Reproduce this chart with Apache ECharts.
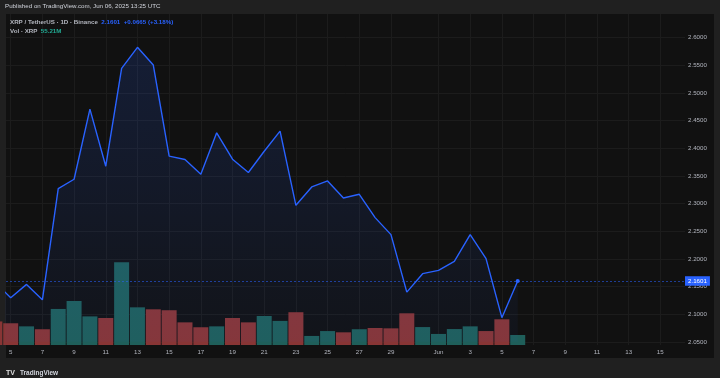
<!DOCTYPE html>
<html>
<head>
<meta charset="utf-8">
<script src="https://cdn.jsdelivr.net/npm/echarts@6/dist/echarts.min.js"></script>
<style>
html, body { margin: 0; padding: 0; background: #202020; }
#chart { width: 720px; height: 378px; }
</style>
</head>
<body>
<div id="chart"></div>
<script>
// daily XRP/USDT closes and volume (millions)
const dates = [
	'2025-05-04', '2025-05-05', '2025-05-06', '2025-05-07', '2025-05-08', '2025-05-09',
	'2025-05-10', '2025-05-11', '2025-05-12', '2025-05-13', '2025-05-14', '2025-05-15',
	'2025-05-16', '2025-05-17', '2025-05-18', '2025-05-19', '2025-05-20', '2025-05-21',
	'2025-05-22', '2025-05-23', '2025-05-24', '2025-05-25', '2025-05-26', '2025-05-27',
	'2025-05-28', '2025-05-29', '2025-05-30', '2025-05-31', '2025-06-01', '2025-06-02',
	'2025-06-03', '2025-06-04', '2025-06-05', '2025-06-06'
]
const closes = [
	2.1578, 2.1297, 2.1538, 2.1260, 2.3272, 2.3440,
	2.4708, 2.3676, 2.5446, 2.5826, 2.5505, 2.3857,
	2.3797, 2.3531, 2.4279, 2.3803, 2.3562, 2.3947,
	2.4310, 2.2969, 2.3301, 2.3409, 2.3101, 2.3168,
	2.2746, 2.2438, 2.1399, 2.1732, 2.1792, 2.1955,
	2.2438, 2.2004, 2.0936, 2.1601
]
const volumes = [
	130, 120, 103, 87, 199, 243,
	158, 149, 457, 208, 197, 192,
	125, 98, 103, 149, 125, 160,
	133, 181, 50, 77, 70, 87,
	94, 92, 175, 99, 61, 88,
	103, 77, 142, 55.21
]
const tickDates = [
	'2025-05-05', '2025-05-07', '2025-05-09', '2025-05-11', '2025-05-13', '2025-05-15',
	'2025-05-17', '2025-05-19', '2025-05-21', '2025-05-23', '2025-05-25', '2025-05-27',
	'2025-05-29', '2025-06-01', '2025-06-03', '2025-06-05', '2025-06-07', '2025-06-09',
	'2025-06-11', '2025-06-13', '2025-06-15'
]
const tickLabels = [
	'5', '7', '9', '11', '13', '15', '17', '19', '21', '23', '25', '27',
	'29', 'Jun', '3', '5', '7', '9', '11', '13', '15'
]

const FONT = 'Liberation Sans, Arial, sans-serif'
const UP = '#1f5f5a'
const DOWN = '#883535'

const dayIndex = d => Math.round((Date.parse(d) - Date.parse(dates[0])) / 864e5)
const tickIdx = tickDates.map(dayIndex)

const last = closes[closes.length - 1]
const prev = closes[closes.length - 2]
const chg = last - prev
const pct = chg / prev * 100
const lastVol = volumes[volumes.length - 1]

const priceData = dates.map((d, i) => {
	const item = { value: [dayIndex(d), closes[i]] }
	if (i === dates.length - 1) {
		item.symbol = 'circle'
		item.symbolSize = 4
	}
	return item
})
const volData = dates.map((d, i) => ({
	value: [dayIndex(d), volumes[i]],
	itemStyle: { color: i > 0 && closes[i] >= closes[i - 1] ? UP : DOWN }
}))

// visible window in day units
const xMin = 0.7034
const xMax = 43.558

const myChart = echarts.init(document.getElementById('chart'))

const option = {
	backgroundColor: '#202020',
	animation: false,
	textStyle: { fontFamily: FONT },
	graphic: [
		{
			type: 'rect', z: -10, silent: true,
			shape: { x: 6, y: 14, width: 708, height: 344 },
			style: { fill: '#111111' }
		}
	],
	title: [
		{
			text: 'Published on TradingView.com, Jun 06, 2025 13:25 UTC',
			left: 5, top: 3.5, padding: 0,
			textStyle: { color: '#d1d4dc', fontSize: 6.2, fontWeight: 'normal', fontFamily: FONT }
		},
		{
			text: '{a|XRP / TetherUS · 1D · Binance}  {b|' + last.toFixed(4) + '  +' + chg.toFixed(4) +
				' (+' + pct.toFixed(2) + '%)}',
			left: 10, top: 19.5, padding: 0,
			textStyle: {
				fontFamily: FONT, fontSize: 6.2,
				rich: {
					a: { color: '#b2b5be', fontSize: 6.2, fontFamily: FONT },
					b: { color: '#2962ff', fontSize: 6.2, fontFamily: FONT }
				}
			}
		},
		{
			text: '{a|Vol · XRP}  {b|' + lastVol.toFixed(2) + 'M}',
			left: 10, top: 28.5, padding: 0,
			textStyle: {
				fontFamily: FONT, fontSize: 6.2,
				rich: {
					a: { color: '#b2b5be', fontSize: 6.2, fontFamily: FONT },
					b: { color: '#22ab94', fontSize: 6.2, fontFamily: FONT }
				}
			}
		},
		{
			text: '{l|TV} {t|TradingView}',
			left: 6, top: 364, padding: 0,
			textStyle: {
				fontFamily: FONT,
				rich: {
					l: { color: '#e0e0e0', fontSize: 7, fontWeight: 900, fontFamily: FONT },
					t: { color: '#d1d4dc', fontSize: 6.5, fontFamily: FONT }
				}
			}
		}
	],
	grid: [
		{ left: 6, right: 35, top: 37.7, bottom: 36.2 },
		{ left: 6, right: 35, top: 14, bottom: 33 }
	],
	xAxis: [
		{
			type: 'value', gridIndex: 0, min: xMin, max: xMax, show: false,
			splitLine: { show: false }
		},
		{
			type: 'value', gridIndex: 1, min: xMin, max: xMax,
			axisLine: { show: false },
			axisTick: { show: false, customValues: tickIdx },
			axisLabel: {
				customValues: tickIdx,
				margin: 4,
				color: '#b2b5be',
				fontSize: 6.2,
				fontFamily: FONT,
				formatter: v => tickLabels[tickIdx.indexOf(v)]
			},
			splitLine: { show: true, lineStyle: { color: '#1c1c1c', width: 1 } }
		}
	],
	yAxis: [
		{
			type: 'value', gridIndex: 0, position: 'right',
			min: 2.05, max: 2.6, interval: 0.05,
			axisLine: { show: false },
			axisTick: { show: false },
			axisLabel: {
				margin: 3, color: '#b2b5be', fontSize: 6.2, fontFamily: FONT,
				formatter: v => v.toFixed(4)
			},
			splitLine: { show: true, lineStyle: { color: '#1c1c1c', width: 1 } }
		},
		{
			type: 'value', gridIndex: 1, min: 0, max: 1827, show: false,
			splitLine: { show: false }
		}
	],
	series: [
		{
			type: 'bar',
			xAxisIndex: 1, yAxisIndex: 1,
			barWidth: 15,
			data: volData,
			z: 1,
			markLine: {
				silent: true, symbol: 'none',
				lineStyle: { opacity: 0 },
				label: {
					position: 'end', distance: 0,
					formatter: lastVol.toFixed(2) + ' M',
					color: '#ffffff', backgroundColor: '#22ab94',
					fontSize: 6.2, fontFamily: FONT, padding: [2, 3, 1.5, 3]
				},
				data: [{ yAxis: lastVol }]
			}
		},
		{
			type: 'line',
			xAxisIndex: 0, yAxisIndex: 0,
			data: priceData,
			symbol: 'none',
			z: 3,
			lineStyle: { color: '#2962ff', width: 1.4 },
			itemStyle: { color: '#2962ff' },
			areaStyle: {
				origin: 'start',
				color: new echarts.graphic.LinearGradient(0, 0, 0, 1, [
					{ offset: 0, color: 'rgba(41,98,255,0.22)' },
					{ offset: 1, color: 'rgba(41,98,255,0.05)' }
				])
			},
			markLine: {
				silent: true, symbol: 'none',
				lineStyle: { color: 'rgba(41,98,255,0.55)', type: [2, 2], width: 1 },
				label: {
					position: 'end', distance: 0,
					formatter: last.toFixed(4),
					color: '#ffffff', backgroundColor: '#2962ff',
					fontSize: 6.2, fontFamily: FONT, padding: [2, 3, 1.5, 3]
				},
				data: [{ yAxis: last }]
			}
		}
	]
}

myChart.setOption(option)
</script>
</body>
</html>
